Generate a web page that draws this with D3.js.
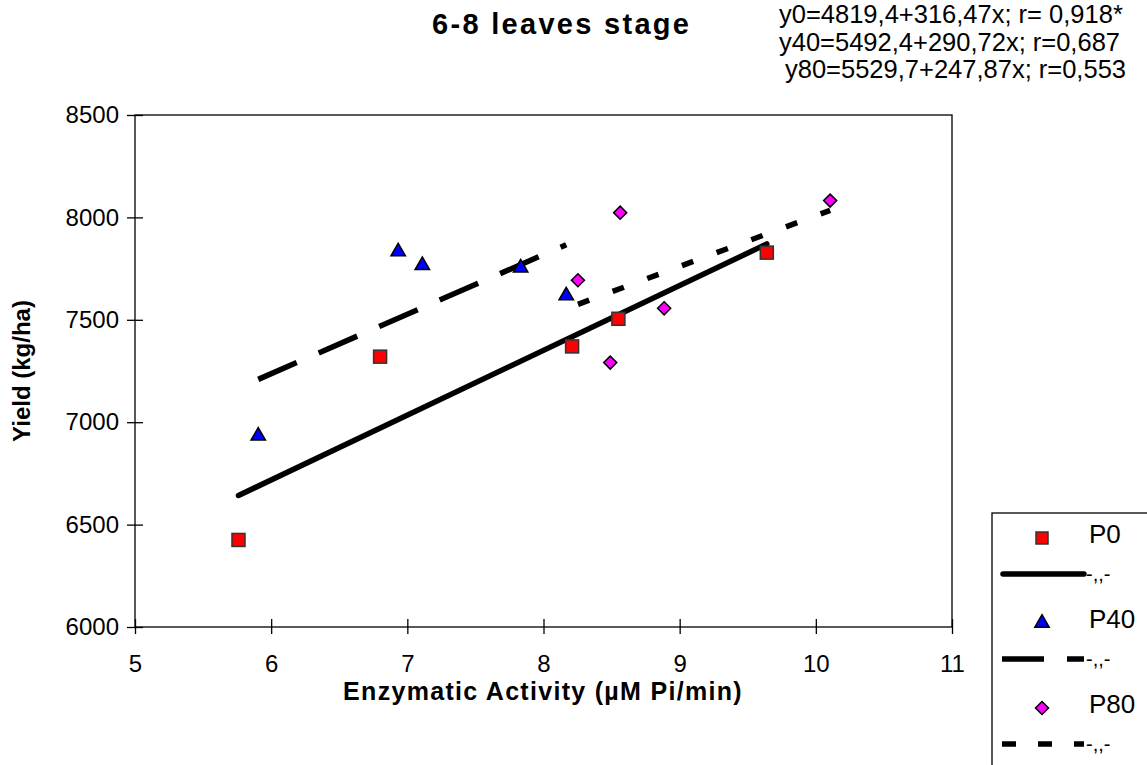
<!DOCTYPE html>
<html>
<head>
<meta charset="utf-8">
<script src="https://cdn.jsdelivr.net/npm/d3@7"></script>
<style>
  body { margin: 0; background: white; }
  text { font-family: "Liberation Sans", Arial, sans-serif; }
</style>
</head>
<body>
<div id="chart"></div>
<script>
var chart = {
  width: 1147,
  height: 765,
  top: 115,
  right: 195,
  bottom: 138,
  left: 135,
}

// P0 - squares
var p0X = [5.76, 6.80, 8.21, 8.55, 9.64];
var p0Y = [6425, 7320, 7370, 7505, 7828];
// P40 - triangles
var p40X = [5.905, 6.933, 7.11, 7.832, 8.167];
var p40Y = [6933, 7833, 7766, 7754, 7618];
// P80 - diamonds
var p80X = [8.253, 8.49, 8.563, 8.886, 10.105];
var p80Y = [7693, 7291, 8023, 7556, 8082];

// regression lines y = a + b*x
var fitIntercepts = [4819.4, 5492.4, 5529.7];
var fitSlopes = [316.47, 290.72, 247.87];

var xTicks = [5, 6, 7, 8, 9, 10, 11];
var yTicks = [6000, 6500, 7000, 7500, 8000, 8500];

var seriesNames = ["P0", "P40", "P80"];
var equations = [
  "y0=4819,4+316,47x; r= 0,918*",
  "y40=5492,4+290,72x; r=0,687",
  "y80=5529,7+247,87x; r=0,553"
];

function initChart() {
  let svg = d3.select("#chart")
    .append("svg")
    .attr("width", chart.width)
    .attr("height", chart.height);

  let x = d3.scaleLinear()
    .domain([5, 11])
    .range([chart.left, chart.width - chart.right]);
  let y = d3.scaleLinear()
    .domain([6000, 8500])
    .range([chart.height - chart.bottom, chart.top]);

  let plotW = chart.width - chart.right - chart.left;
  let plotH = chart.height - chart.bottom - chart.top;

  /* frame */
  svg.append("rect")
    .attr("x", chart.left).attr("y", chart.top)
    .attr("width", plotW).attr("height", plotH)
    .style("fill", "none").style("stroke", "black").style("stroke-width", 1.3);

  /* x axis */
  let xAxis = svg.append("g")
    .attr("transform", `translate(0, ${chart.height - chart.bottom})`)
    .call(d3.axisBottom(x).tickValues(xTicks).tickFormat(d3.format("d")).tickSize(7).tickSizeOuter(0));
  xAxis.select(".domain").remove();
  xAxis.selectAll(".tick line").attr("y1", -8).attr("y2", 7).style("stroke-width", 1.3);
  xAxis.selectAll(".tick text")
    .attr("y", 28)
    .style("font-family", "Liberation Sans, Arial, sans-serif")
    .style("font-size", "24px")
    .style("fill", "black");

  /* y axis */
  let yAxis = svg.append("g")
    .attr("transform", `translate(${chart.left}, 0)`)
    .call(d3.axisLeft(y).tickValues(yTicks).tickFormat(d3.format("d")).tickSize(8).tickSizeOuter(0));
  yAxis.select(".domain").remove();
  yAxis.selectAll(".tick line").attr("x1", -8).attr("x2", 8).style("stroke-width", 1.3);
  yAxis.selectAll(".tick text")
    .attr("x", -16)
    .style("font-family", "Liberation Sans, Arial, sans-serif")
    .style("font-size", "24px")
    .style("fill", "black");

  /* regression lines */
  let fits = [
    { xs: p0X, a: fitIntercepts[0], b: fitSlopes[0], dash: null },
    { xs: p40X, a: fitIntercepts[1], b: fitSlopes[1], dash: "42,24" },
    { xs: p80X, a: fitIntercepts[2], b: fitSlopes[2], dash: "12,25" },
  ];
  fits.forEach((f) => {
    let x0 = d3.min(f.xs), x1 = d3.max(f.xs);
    svg.append("line")
      .attr("x1", x(x0)).attr("y1", y(f.a + f.b * x0))
      .attr("x2", x(x1)).attr("y2", y(f.a + f.b * x1))
      .style("stroke", "black")
      .style("stroke-width", 5.5)
      .style("stroke-linecap", f.dash ? "butt" : "round")
      .style("stroke-dasharray", f.dash);
  });

  /* points */
  let pts = svg.append("g").attr("id", "points");
  pts.selectAll(".p0")
    .data(d3.zip(p0X, p0Y))
    .enter()
    .append("rect")
    .attr("x", (d) => x(d[0]) - 6.5)
    .attr("y", (d) => y(d[1]) - 6.5)
    .attr("width", 13).attr("height", 13)
    .style("fill", "#ff0000").style("stroke", "#333").style("stroke-width", 1.5);

  let tri = d3.symbol().type(d3.symbolTriangle).size(90);
  pts.selectAll(".p40")
    .data(d3.zip(p40X, p40Y))
    .enter()
    .append("path")
    .attr("d", tri)
    .attr("transform", (d) => `translate(${x(d[0])}, ${y(d[1])})`)
    .style("fill", "#0000ff").style("stroke", "black").style("stroke-width", 1.5);

  let dia = d3.symbol().type(d3.symbolSquare).size(85);
  pts.selectAll(".p80")
    .data(d3.zip(p80X, p80Y))
    .enter()
    .append("path")
    .attr("d", dia)
    .attr("transform", (d) => `translate(${x(d[0])}, ${y(d[1])}) rotate(45)`)
    .style("fill", "#ff00ff").style("stroke", "black").style("stroke-width", 1.5);

  /* titles */
  svg.append("text")
    .attr("x", 432).attr("y", 34)
    .text("6-8 leaves stage")
    .style("font-size", "29px").style("font-weight", "bold").style("letter-spacing", "2.3px");

  svg.selectAll(".eq")
    .data(equations)
    .enter()
    .append("text")
    .attr("x", (d, i) => i === 2 ? 785 : 779)
    .attr("y", (d, i) => 23 + i * 27.5)
    .text((d) => d)
    .style("font-size", "25.5px");

  svg.append("text")
    .attr("x", 543)
    .attr("y", 700)
    .attr("text-anchor", "middle")
    .text("Enzymatic Activity (µM Pi/min)")
    .style("font-size", "25px").style("font-weight", "bold").style("letter-spacing", "1.3px");

  svg.append("text")
    .attr("transform", `translate(30, ${(chart.top + chart.height - chart.bottom) / 2}) rotate(-90)`)
    .attr("text-anchor", "middle")
    .text("Yield (kg/ha)")
    .style("font-size", "24px").style("font-weight", "bold");

  /* legend */
  let lg = svg.append("g").attr("transform", "translate(992, 513)");
  lg.append("rect")
    .attr("x", 0).attr("y", 0).attr("width", 170).attr("height", 270)
    .style("fill", "white").style("stroke", "black").style("stroke-width", 1.3);

  let markerFills = ["#ff0000", "#0000ff", "#ff00ff"];
  let dashes = [null, "42,23", "14,22"];
  seriesNames.forEach((name, i) => {
    let ym = 25 + i * 85;
    let yl = ym + 36;
    if (i === 0) {
      lg.append("rect").attr("x", 44).attr("y", ym - 6).attr("width", 12).attr("height", 12)
        .style("fill", markerFills[i]).style("stroke", "#333").style("stroke-width", 1.5);
    } else {
      lg.append("path")
        .attr("d", i === 1 ? tri : dia)
        .attr("transform", `translate(50, ${ym})` + (i === 2 ? " rotate(45)" : ""))
        .style("fill", markerFills[i]).style("stroke", "black").style("stroke-width", 1.5);
    }
    lg.append("text").attr("x", 97).attr("y", ym + 5).text(name).style("font-size", "26px");
    lg.append("line")
      .attr("x1", i === 0 ? 11 : 10).attr("x2", 92)
      .attr("y1", yl).attr("y2", yl)
      .style("stroke", "black").style("stroke-width", 5.5)
      .style("stroke-linecap", i === 0 ? "round" : "butt")
      .style("stroke-dasharray", dashes[i]);
    lg.append("text").attr("x", 94).attr("y", yl + 7).text("-,,-").style("font-size", "20px");
  });
}

initChart();
</script>
</body>
</html>
